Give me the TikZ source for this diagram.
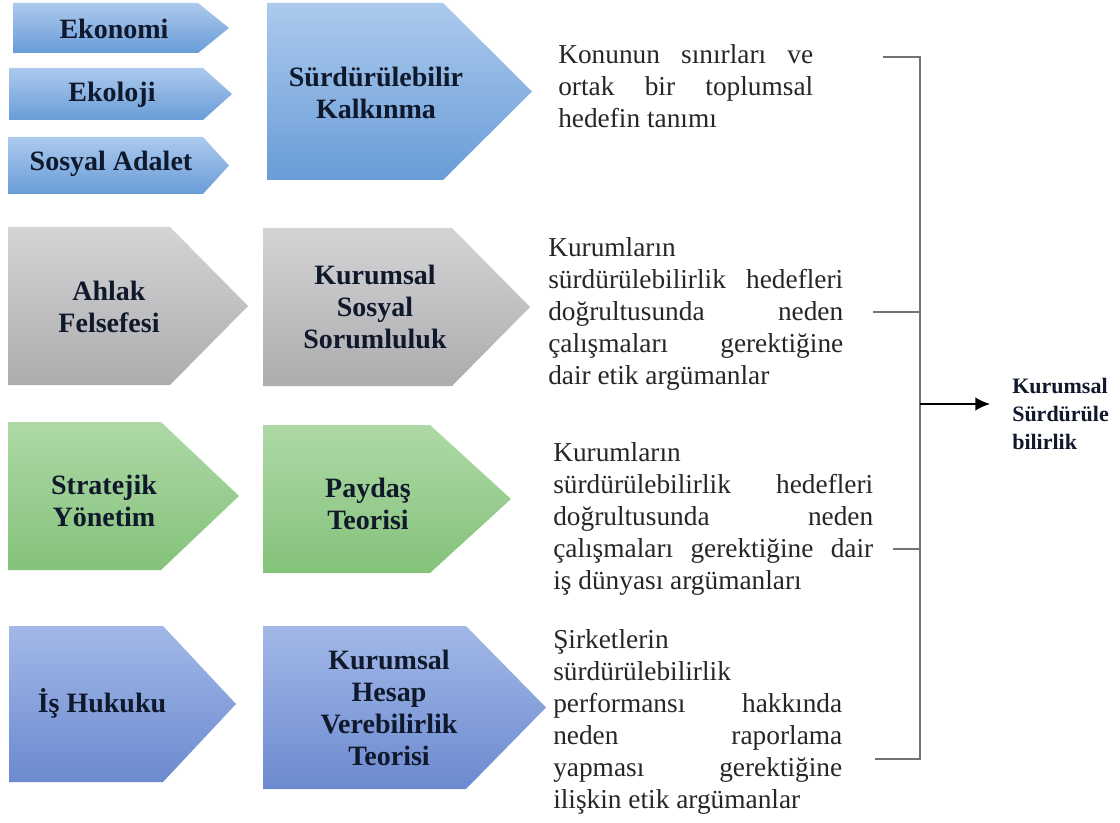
\documentclass[tikz,border=0pt]{standalone}
\usepackage{fontspec}
\setmainfont{Liberation Serif}
\usetikzlibrary{arrows.meta}

\definecolor{skytop}{RGB}{172,202,237}
\definecolor{skybot}{RGB}{105,156,216}
\definecolor{ashtop}{RGB}{212,212,214}
\definecolor{ashbot}{RGB}{172,172,174}
\definecolor{leaftop}{RGB}{174,217,166}
\definecolor{leafbot}{RGB}{132,194,122}
\definecolor{lilactop}{RGB}{162,184,231}
\definecolor{lilacbot}{RGB}{108,138,208}
\definecolor{ink}{RGB}{16,24,44}

% chevron: left, top, body end, tip, bottom, colour style
\newcommand\chev[6]{%
  \shade[#6] (#1,#2) -- (#3,#2) -- (#4,{(#2+#5)/2}) -- (#3,#5) -- (#1,#5) -- cycle;}
% justified line of a given width
\newcommand\jl[2]{\hbox to #1{#2}}

\begin{document}
\begin{tikzpicture}[
  x=0.75pt, y=-0.75pt,
  lbl/.style={align=center, inner sep=0pt, text=ink,
    font=\fontsize{21}{24}\selectfont\bfseries},
  txt/.style={anchor=north west, align=left, inner sep=0pt, text=black!85,
    font=\fontsize{20.5}{24}\selectfont},
  sky/.style={top color=skytop, bottom color=skybot},
  ash/.style={top color=ashtop, bottom color=ashbot},
  leaf/.style={top color=leaftop, bottom color=leafbot},
  lilac/.style={top color=lilactop, bottom color=lilacbot},
  bracket/.style={draw=black!55, line width=1.2pt},
  arrow/.style={-{Latex[length=11pt,width=10pt]}, line width=1.1pt}
]
\useasboundingbox (0,0) rectangle (1120,823);

% first row
\chev{13}{3}{198}{229}{53}{sky}
\chev{9}{68}{203}{232}{120}{sky}
\chev{8}{137}{203}{229}{194}{sky}
\chev{267}{3}{443}{532}{180}{sky}
\node[lbl] (ekonomi) at (114,29) {Ekonomi};
\node[lbl] (ekoloji) at (112,95) {Ekoloji};
\node[lbl] (adalet) at (111,164) {Sosyal Adalet};
\node[lbl] (kalkinma) at (376,93) {Sürdürülebilir\\Kalkınma};

% second row
\chev{8}{227}{170}{248}{385}{ash}
\chev{263}{228}{452}{530}{386}{ash}
\node[lbl] (ahlak) at (109,307) {Ahlak\\Felsefesi};
\node[lbl] (kss) at (375,307) {Kurumsal\\Sosyal\\Sorumluluk};

% third row
\chev{8}{422}{161}{239}{570}{leaf}
\chev{263}{425}{430}{511}{573}{leaf}
\node[lbl] (stratejik) at (104,501) {Stratejik\\Yönetim};
\node[lbl] (paydas) at (368,504) {Paydaş\\Teorisi};

% fourth row
\chev{9}{626}{163}{236}{782}{lilac}
\chev{263}{626}{466}{546}{789}{lilac}
\node[lbl] (hukuk) at (102,703) {İş Hukuku};
\node[lbl] (hesap) at (389,708) {Kurumsal\\Hesap\\Verebilirlik\\Teorisi};

% texts
\node[txt] (t1) at (558,44) {%
  \jl{191.25pt}{Konunun\hfill sınırları\hfill ve}\\
  \jl{191.25pt}{ortak\hfill bir\hfill toplumsal}\\
  hedefin tanımı};
\node[txt] (t2) at (548,237) {%
  Kurumların\\
  \jl{221.25pt}{sürdürülebilirlik\hfill hedefleri}\\
  \jl{221.25pt}{doğrultusunda\hfill neden}\\
  \jl{221.25pt}{çalışmaları\hfill gerektiğine}\\
  dair etik argümanlar};
\node[txt] (t3) at (553,442) {%
  Kurumların\\
  \jl{240pt}{sürdürülebilirlik\hfill hedefleri}\\
  \jl{240pt}{doğrultusunda\hfill neden}\\
  \jl{240pt}{çalışmaları\hfill gerektiğine\hfill dair}\\
  iş dünyası argümanları};
\node[txt] (t4) at (553,629) {%
  Şirketlerin\\
  sürdürülebilirlik\\
  \jl{216.75pt}{performansı\hfill hakkında}\\
  \jl{216.75pt}{neden\hfill raporlama}\\
  \jl{216.75pt}{yapması\hfill gerektiğine}\\
  ilişkin etik argümanlar};

% bracket
\coordinate (btop) at (920,57);
\coordinate (bbot) at (920,759);
\coordinate (bmid) at (920,404);
\coordinate (tk1) at (920,312);
\coordinate (tk2) at (920,549);
\coordinate (e1) at (883,57);
\coordinate (e2) at (873,312);
\coordinate (e3) at (893,549);
\coordinate (e4) at (875,759);
\draw[bracket] (e1) -- (btop) -- (bbot) -- (e4);
\draw[bracket] (e2) -- (tk1);
\draw[bracket] (e3) -- (tk2);

\node[anchor=west, align=left, inner sep=0pt, text=ink,
  font=\fontsize{16.5}{21}\selectfont\bfseries] (kurs) at (1012,414)
  {Kurumsal\\Sürdürüle\\bilirlik};
\draw[arrow, shorten >=16.5pt] (bmid) -- (bmid -| kurs.west);
\end{tikzpicture}
\end{document}
